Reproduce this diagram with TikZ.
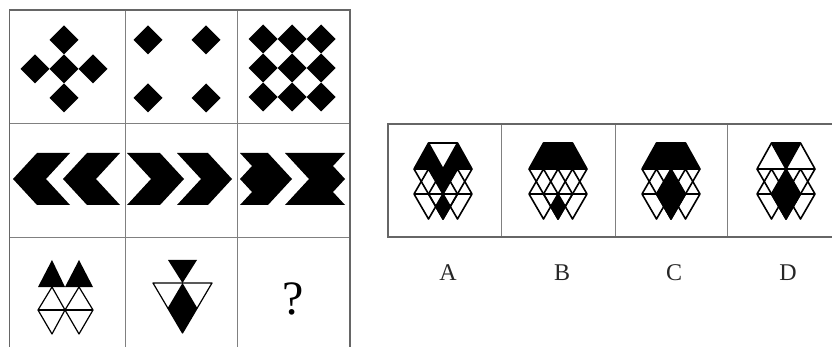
\documentclass[tikz,border=0pt]{standalone}
\usepackage{fontspec}
\setmainfont{Liberation Serif}
\tikzset{
  fig/.style={draw=black, line width=1.2pt, line join=round},
  ofig/.style={draw=black, line width=1.6pt, line join=round},
  gridout/.style={draw=black!60, line width=1.8pt},
  gridin/.style={draw=black!50, line width=0.9pt},
  lbl/.style={inner sep=0pt, font=\fontsize{24}{24}\selectfont, text=black!85},
}
\newcommand\dmd[2]{\fill (#1-14.5,#2) -- (#1,#2-14.5) -- (#1+14.5,#2) -- (#1,#2+14.5) -- cycle;}
\newcommand\optlines{%
  \draw[ofig] (-29,26) -- (-14.5,0) -- (14.5,0) -- (29,26) -- cycle;
  \draw[ofig] (-14.5,0) -- (0,26) -- (14.5,0);
  \draw[ofig] (-14.5,26) -- (-29,51) -- (-14.5,76) -- (0,51) -- cycle;
  \draw[ofig] (14.5,26) -- (0,51) -- (14.5,76) -- (29,51) -- cycle;
  \draw[ofig] (-29,51) -- (29,51);
  \draw[ofig] (-29,26) -- (0,76) -- (29,26);
  \draw[ofig] (0,26) -- (-14.5,51) -- (0,76) -- (14.5,51) -- cycle;
}
\newcommand\trapfill{\fill (-29,26) -- (-14.5,0) -- (14.5,0) -- (29,26) -- cycle;}
\newcommand\bigdia{\fill (0,26) -- (-14.5,51) -- (0,76) -- (14.5,51) -- cycle;}
\newcommand\smalldia{\fill (0,51) -- (-7.25,63.5) -- (0,76) -- (7.25,63.5) -- cycle;}
\begin{document}
\begin{tikzpicture}[x=1pt,y=-1pt]
\useasboundingbox (0,0) rectangle (832,347);
\fill[white] (0,0) rectangle (832,347);

% ---------- left 3x3 grid ----------
\draw[gridin] (125,10) -- (125,347);
\draw[gridin] (237,10) -- (237,347);
\draw[gridin] (9.5,123) -- (350,123);
\draw[gridin] (9.5,237) -- (350,237);
\draw[gridout] (9.5,347) -- (9.5,10) -- (350,10) -- (350,347);

% row 1
\dmd{64}{40}\dmd{35}{69}\dmd{64}{69}\dmd{93}{69}\dmd{64}{98}
\dmd{148}{40}\dmd{206}{40}\dmd{148}{98}\dmd{206}{98}
\foreach \xx in {263,292,321}{\foreach \yy in {39,68,97}{\dmd{\xx}{\yy}}}

% row 2
\fill (13,179) -- (37,153) -- (70,153) -- (46,179) -- (70,205) -- (37,205) -- cycle;
\fill (63,179) -- (87,153) -- (120,153) -- (96,179) -- (120,205) -- (87,205) -- cycle;
\fill (127,153) -- (160,153) -- (184,179) -- (160,205) -- (127,205) -- (151,179) -- cycle;
\fill (177,153) -- (208,153) -- (232,179) -- (208,205) -- (177,205) -- (201,179) -- cycle;
\fill (240,153) -- (268,153) -- (292,179) -- (268,205) -- (240,205) -- (252,192) -- (240,179) -- (252,166) -- cycle;
\fill (285,153) -- (345,153) -- (333,166) -- (345,179) -- (333,192) -- (345,205) -- (285,205) -- (309,179) -- cycle;

% row 3, cell 1
\fill (38,287) -- (52,260) -- (65,287) -- cycle;
\fill (65,287) -- (79,260) -- (93,287) -- cycle;
\draw[fig] (52,287) -- (38,310) -- (52,334) -- (65,310) -- cycle;
\draw[fig] (79,287) -- (65,310) -- (79,334) -- (93,310) -- cycle;
\draw[fig] (38,310) -- (93,310);
% row 3, cell 2
\fill (168,260) -- (197,260) -- (182.5,283) -- cycle;
\draw[fig] (153,283) -- (212,283) -- (182.5,333) -- cycle;
\fill (182.5,283) -- (167.75,308) -- (182.5,333) -- (197.25,308) -- cycle;
% row 3, cell 3
\node (q) at (293,299) {\fontsize{48}{48}\selectfont ?};

% ---------- options box ----------
\draw[gridin] (501,124) -- (501,237);
\draw[gridin] (615,124) -- (615,237);
\draw[gridin] (727,124) -- (727,237);
\draw[gridout] (832,124) -- (388,124) -- (388,237) -- (832,237);

% option A
\begin{scope}[shift={(443,143)}]
  \fill (-29,26) -- (-14.5,0) -- (0,26) -- cycle;
  \fill (0,26) -- (14.5,0) -- (29,26) -- cycle;
  \fill (-14.5,26) -- (14.5,26) -- (0,51) -- cycle;
  \smalldia
  \optlines
\end{scope}
% option B
\begin{scope}[shift={(558,143)}]
  \trapfill
  \smalldia
  \optlines
\end{scope}
% option C
\begin{scope}[shift={(671,143)}]
  \trapfill
  \bigdia
  \optlines
\end{scope}
% option D
\begin{scope}[shift={(786,143)}]
  \fill (-14.5,0) -- (14.5,0) -- (0,26) -- cycle;
  \bigdia
  \optlines
\end{scope}

\node[lbl] (la) at (448,273) {A};
\node[lbl] (lb) at (562,273) {B};
\node[lbl] (lc) at (674,273) {C};
\node[lbl] (ld) at (788,273) {D};
\end{tikzpicture}
\end{document}
